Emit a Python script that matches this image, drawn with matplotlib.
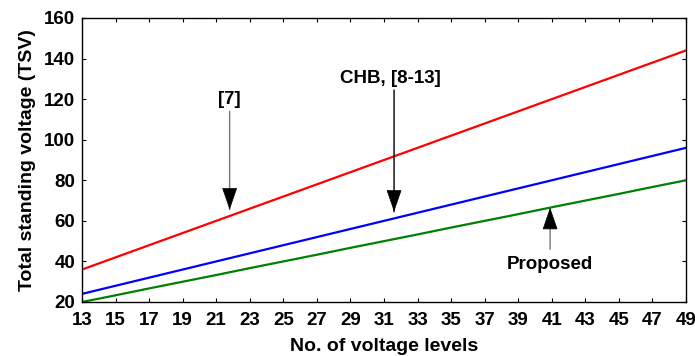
import matplotlib
matplotlib.use("Agg")
import matplotlib.pyplot as plt

# number of voltage levels (odd levels only)
levels = [13, 15, 17, 19, 21, 23, 25, 27, 29, 31, 33, 35, 37, 39, 41, 43, 45, 47, 49]

# total standing voltage
tsv_ref7 = [36, 42, 48, 54, 60, 66, 72, 78, 84, 90, 96, 102, 108, 114, 120, 126, 132, 138, 144]
tsv_chb = [24, 28, 32, 36, 40, 44, 48, 52, 56, 60, 64, 68, 72, 76, 80, 84, 88, 92, 96]
tsv_proposed = [20.0, 23.3, 26.7, 30.0, 33.3, 36.7, 40.0, 43.3, 46.7, 50.0,
                53.3, 56.7, 60.0, 63.3, 66.7, 70.0, 73.3, 76.7, 80.0]

plt.rcParams["font.family"] = ["Liberation Sans", "DejaVu Sans"]
plt.rcParams["font.weight"] = "bold"

fig = plt.figure(figsize=(6.95, 3.56), dpi=100)
ax = fig.add_axes([82 / 695, 54 / 356, 604 / 695, 284 / 356])

ax.plot(levels, tsv_ref7, color="#ff0000", linewidth=1.6)
ax.plot(levels, tsv_chb, color="#0000ff", linewidth=1.6)
ax.plot(levels, tsv_proposed, color="#008000", linewidth=1.6)

ax.set_xlim(13, 49)
ax.set_ylim(20, 160)
ax.set_xticks(levels)
ax.set_yticks(range(20, 161, 20))
ax.tick_params(direction="in", length=3, width=0.8, top=True, right=True,
               labelsize=13.5, colors="black")
ax.tick_params(axis="x", pad=7)
ax.tick_params(axis="y", pad=5)
for lbl in ax.get_xticklabels() + ax.get_yticklabels():
    lbl.set_fontweight("bold")
for sp in ax.spines.values():
    sp.set_linewidth(1.0)

ax.set_xlabel("No. of voltage levels", fontsize=14, fontweight="bold", labelpad=7)
ax.set_ylabel("Total standing voltage (TSV)", fontsize=14, fontweight="bold", labelpad=6)


def pointer(x, y_tip, y_tail, shaft_color):
    # shaft line, then a black filled head
    ax.annotate("", xy=(x, y_tip), xytext=(x, y_tail),
                arrowprops=dict(arrowstyle="-", color=shaft_color, lw=1.0,
                                shrinkA=0, shrinkB=0))
    direction = 1 if y_tail > y_tip else -1
    ax.annotate("", xy=(x, y_tip), xytext=(x, y_tip + direction * 5),
                arrowprops=dict(arrowstyle="-|>,head_length=1.45,head_width=0.5",
                                color="black", lw=0.5, shrinkA=0, shrinkB=0))


pointer(21.8, 65.5, 114, "#777777")
ax.text(21.8, 115.5, "[7]", ha="center", va="bottom", fontsize=13.5, fontweight="bold")

pointer(31.6, 64.5, 124.5, "black")
ax.text(31.4, 126, "CHB, [8-13]", ha="center", va="bottom", fontsize=13.5, fontweight="bold")

pointer(40.9, 66.5, 46, "#777777")
ax.text(40.9, 38.5, "Proposed", ha="center", va="center", fontsize=13.5, fontweight="bold")

fig.savefig("out.png", dpi=100)
